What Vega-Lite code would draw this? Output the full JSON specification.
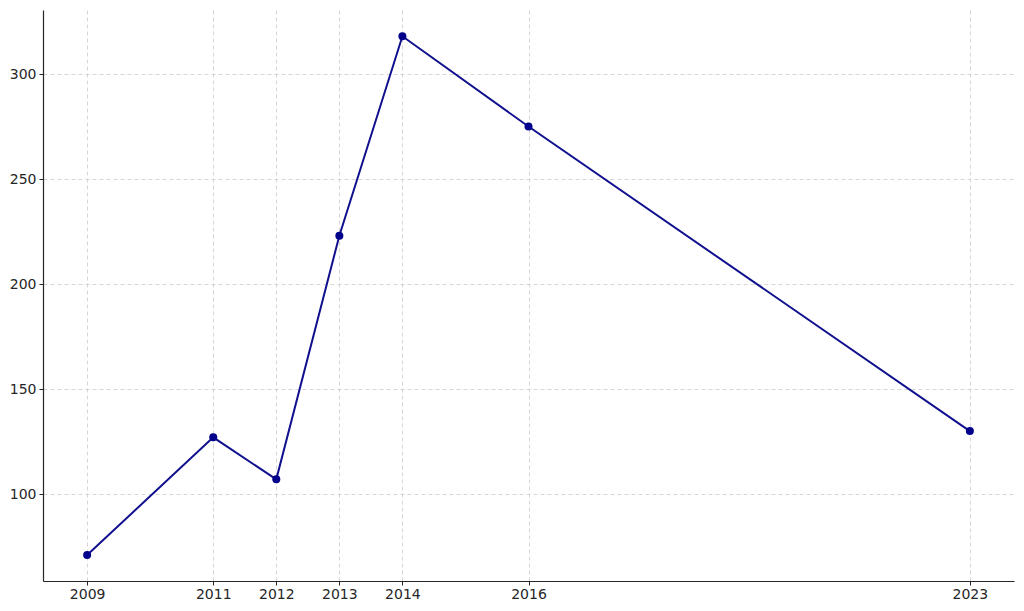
{
  "$schema": "https://vega.github.io/schema/vega-lite/v6.json",
  "width": 971,
  "height": 571,
  "autosize": "none",
  "padding": {"left": 43, "top": 10, "right": 10, "bottom": 30},
  "background": "white",
  "config": {
    "view": {"stroke": null},
    "font": "DejaVu Sans",
    "axis": {
      "labelFont": "DejaVu Sans",
      "labelFontSize": 14,
      "labelColor": "#262626",
      "domainColor": "#262626",
      "domainWidth": 1.2,
      "tickColor": "#262626",
      "tickSize": 4,
      "grid": true,
      "gridColor": "#cccccc",
      "gridDash": [4, 3],
      "gridWidth": 0.8,
      "title": null
    }
  },
  "data": {
    "values": [
      {"year": 2009, "value": 71},
      {"year": 2011, "value": 127},
      {"year": 2012, "value": 107},
      {"year": 2013, "value": 223},
      {"year": 2014, "value": 318},
      {"year": 2016, "value": 275},
      {"year": 2023, "value": 130}
    ]
  },
  "encoding": {
    "x": {
      "field": "year",
      "type": "quantitative",
      "scale": {"domain": [2008.3, 2023.7], "nice": false, "zero": false},
      "axis": {"values": [2009, 2011, 2012, 2013, 2014, 2016, 2023], "format": "d", "labelPadding": 2}
    },
    "y": {
      "field": "value",
      "type": "quantitative",
      "scale": {"domain": [58.6, 330.5], "nice": false, "zero": false},
      "axis": {"values": [100, 150, 200, 250, 300], "labelPadding": 3}
    }
  },
  "layer": [
    {"mark": {"type": "line", "color": "#10108f", "strokeWidth": 2}},
    {"mark": {"type": "point", "filled": true, "color": "#00008b", "size": 64, "opacity": 1}}
  ]
}
